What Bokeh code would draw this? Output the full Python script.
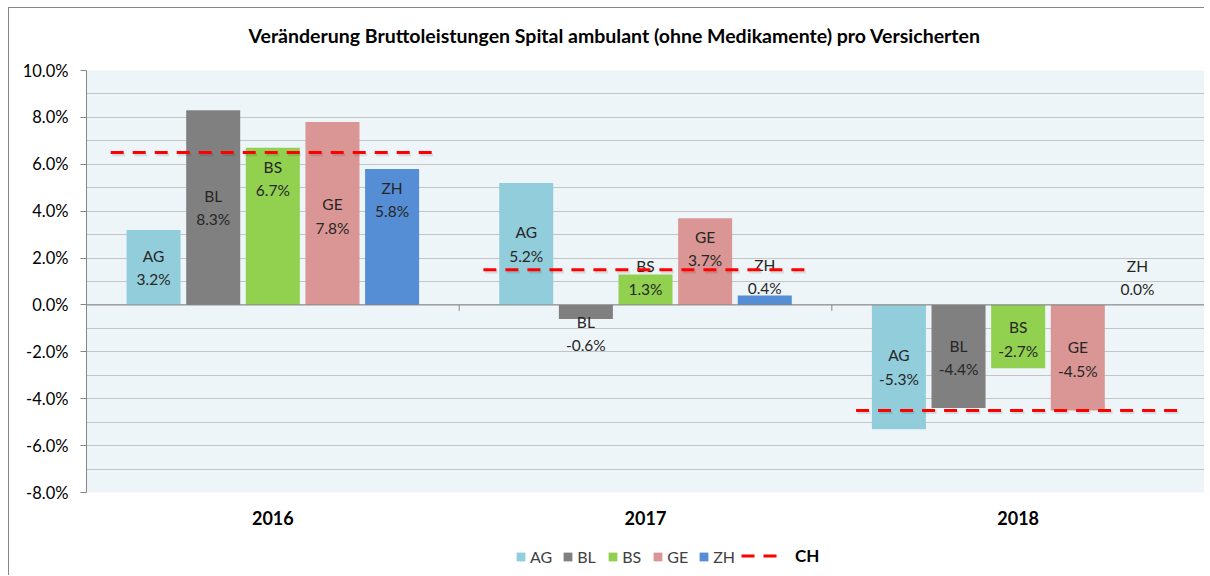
from bokeh.plotting import figure
from bokeh.layouts import column
from bokeh.models import (ColumnDataSource, Range1d, FixedTicker, PrintfTickFormatter,
                          Span, Legend, LegendItem, Title)
from bokeh.core.properties import value
from bokeh.embed import file_html
from bokeh.resources import INLINE

# ---------------- data ----------------
years = ["2016", "2017", "2018"]
cantons = ["AG", "BL", "BS", "GE", "ZH"]
AG = [3.2, 5.2, -5.3]
BL = [8.3, -0.6, -4.4]
BS = [6.7, 1.3, -2.7]
GE = [7.8, 3.7, -4.5]
ZH = [5.8, 0.4, 0.0]
CH = [6.5, 1.5, -4.5]
# where the data labels sit in the original (percent units)
AG_label = [1.6, 2.6, -2.65]
BL_label = [4.15, -1.22, -2.25]
BS_label = [5.4, 1.17, -1.45]
GE_label = [3.8, 2.4, -2.3]
ZH_label = [4.5, 1.22, 1.17]
y_ticks = [-8, -6, -4, -2, 0, 2, 4, 6, 8, 10]
y_minor = [-7, -5, -3, -1, 1, 3, 5, 7, 9]
title_text = "Veränderung Bruttoleistungen Spital ambulant (ohne Medikamente) pro Versicherten"

values = {"AG": AG, "BL": BL, "BS": BS, "GE": GE, "ZH": ZH}
labels = {"AG": AG_label, "BL": BL_label, "BS": BS_label, "GE": GE_label, "ZH": ZH_label}
colors = {"AG": "#92CDDC", "BL": "#808080", "BS": "#92D050", "GE": "#DA9694", "ZH": "#558ED5"}

FONT = "Lato"
BAR_W = 0.145
STEP = 0.16
W = 1195

p = figure(width=W, height=532, output_backend="svg", toolbar_location=None, title=None,
           x_range=Range1d(0, len(years)), y_range=Range1d(-8, 10),
           min_border_left=77, min_border_right=0, min_border_top=62, min_border_bottom=48,
           background_fill_color="#EEF5F9", border_fill_color="white",
           outline_line_color=None)

# spacer between title and plot area, then the title itself
p.add_layout(Title(text=" ", text_font_size="1px", standoff=5), "above")
p.add_layout(Title(text=title_text, align="left", offset=162, vertical_align="top",
                   standoff=28, text_font=FONT, text_font_size="19.5px",
                   text_font_style="bold", text_color="#000000"), "above")

# grid
p.xgrid.grid_line_color = None
p.ygrid.ticker = FixedTicker(ticks=y_ticks, minor_ticks=y_minor)
p.ygrid.grid_line_color = "#C4C4C4"
p.ygrid.minor_grid_line_color = "#C4C4C4"

# y axis
yax = p.yaxis[0]
yax.ticker = FixedTicker(ticks=y_ticks)
yax.formatter = PrintfTickFormatter(format="%.1f%%")
yax.axis_line_color = "#868686"
yax.major_tick_line_color = "#868686"
yax.major_tick_out = 6
yax.major_tick_in = 0
yax.minor_tick_line_color = None
yax.major_label_text_font = FONT
yax.major_label_text_font_size = "16.5px"
yax.major_label_text_color = "#000000"
yax.major_label_standoff = 12

# x axis
xax = p.xaxis[0]
centers = [i + 0.5 for i in range(len(years))]
xax.ticker = FixedTicker(ticks=centers)
xax.major_label_overrides = {c: y for c, y in zip(centers, years)}
xax.axis_line_color = None
xax.major_tick_line_color = None
xax.minor_tick_line_color = None
xax.major_label_text_font = FONT
xax.major_label_text_font_size = "18px"
xax.major_label_text_font_style = "bold"
xax.major_label_text_color = "#000000"
xax.major_label_standoff = 12

# zero line and category boundary ticks
p.add_layout(Span(location=0, dimension="width", line_color="#868686", line_width=1))
bounds = list(range(1, len(years) + 1))
p.segment(x0=bounds, x1=bounds, y0=[0] * len(bounds), y1=[-0.25] * len(bounds),
          line_color="#868686", line_width=1)

# bars
for k, c in enumerate(cantons):
    off = (k - 2) * STEP
    xs = [cx + off for cx in centers]
    src = ColumnDataSource(dict(x=xs, top=values[c], ly=labels[c],
                                txt=[f"{c}\n{v:.1f}%" for v in values[c]]))
    p.vbar(x="x", top="top", bottom=0, width=BAR_W, source=src,
           fill_color=colors[c], line_color=None)
    p.text(x="x", y="ly", text="txt", source=src, text_align="center",
           text_baseline="middle", text_font=value(FONT), text_font_size="15.5px",
           text_color="#262626", text_line_height=1.3)

# CH dashed lines
half = 0.435
ch_x0 = [cx - half for cx in centers]
ch_x1 = [cx + half for cx in centers]
p.segment(x0=[x + 0.004 for x in ch_x0], x1=[x + 0.004 for x in ch_x1],
          y0=[v - 0.09 for v in CH], y1=[v - 0.09 for v in CH],
          line_color="#000000", line_alpha=0.10, line_width=3, line_dash="13 9")
p.segment(x0=ch_x0, x1=ch_x1, y0=CH, y1=CH, line_color="#FF0000",
          line_width=3, line_dash="13 9")

# ---------------- legend strip ----------------
lf = figure(width=W, height=35, output_backend="svg", toolbar_location=None,
            x_range=Range1d(0, 1), y_range=Range1d(0, 1), min_border=0,
            x_axis_location=None, y_axis_location=None,
            outline_line_color=None, background_fill_color="white",
            border_fill_color="white")
lf.grid.grid_line_color = None
# off-screen swatch renderers (only used by the legend)
sw = {c: lf.vbar(x=[-5], top=[-4], bottom=[-5], width=0.1, fill_color=colors[c],
                 line_color=None)
      for c in cantons}
chl = lf.segment(x0=[-5], x1=[-4], y0=[-5], y1=[-5], line_color="#FF0000", line_width=3,
                 line_dash="13 9")
leg1 = Legend(items=[LegendItem(label=c, renderers=[sw[c]]) for c in cantons],
              orientation="horizontal", location=(429, 9),
              glyph_width=11, glyph_height=11, label_standoff=4, spacing=10,
              padding=0, margin=0, border_line_color=None, background_fill_alpha=0,
              label_text_font=FONT, label_text_font_size="16px", label_text_color="#404040",
              label_height=20)
leg2 = Legend(items=[LegendItem(label="CH", renderers=[chl])],
              orientation="horizontal", location=(655, 9),
              glyph_width=40, glyph_height=11, label_standoff=14,
              padding=0, margin=0, border_line_color=None, background_fill_alpha=0,
              label_text_font=FONT, label_text_font_size="17px", label_text_font_style="bold",
              label_text_color="#000000", label_height=20)
lf.add_layout(leg1, "center")
lf.add_layout(leg2, "center")

layout = column(p, lf, spacing=0,
                styles={"margin-left": "8px", "margin-top": "7px",
                        "border-top": "1px solid #868686", "border-left": "1px solid #868686"})

open("out.html", "w").write(file_html(layout, INLINE))
